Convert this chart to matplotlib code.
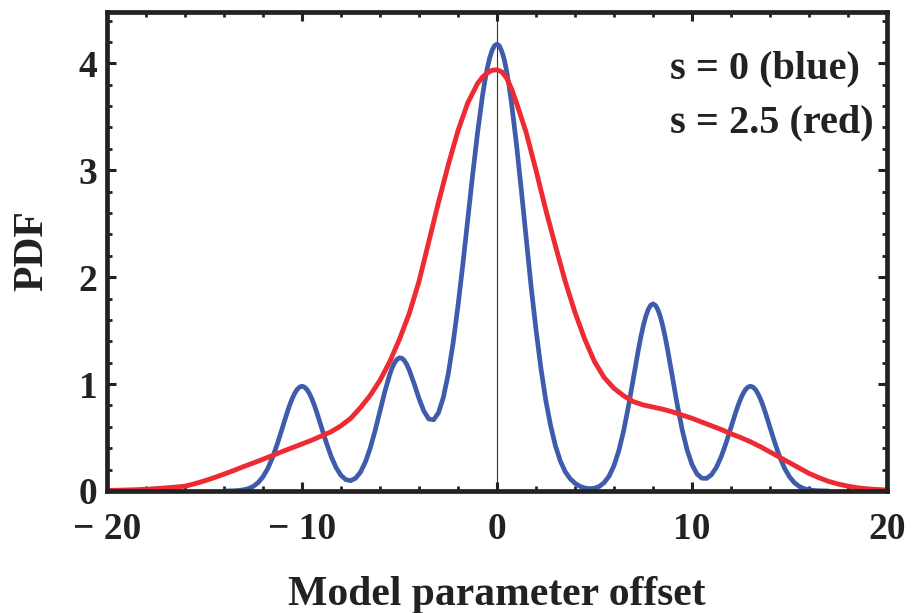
import matplotlib
matplotlib.use("Agg")
import matplotlib.pyplot as plt
from matplotlib.ticker import FixedLocator

plt.rcParams['font.family'] = ['Liberation Serif', 'DejaVu Serif']
plt.rcParams['font.weight'] = 'bold'

# ---- data ----
blue_x = [-14.0, -13.75, -13.5, -13.25, -13.0, -12.75, -12.5, -12.25, -12.0, -11.75,
          -11.5, -11.25, -11.0, -10.75, -10.625, -10.5, -10.375, -10.25, -10.125, -10.0,
          -9.875, -9.75, -9.625, -9.5, -9.375, -9.25,
          -9.0, -8.75, -8.5, -8.25, -8.0, -7.75, -7.5, -7.25, -7.0, -6.75,
          -6.5, -6.25, -6.0, -5.75, -5.5, -5.375, -5.25, -5.125, -5.0, -4.875,
          -4.75, -4.625, -4.5, -4.25,
          -4.0, -3.75, -3.5, -3.25, -3.0, -2.75, -2.5, -2.25, -2.0, -1.75,
          -1.5, -1.25, -1.0, -0.75, -0.625, -0.5, -0.375, -0.25, -0.125, 0.0,
          0.125, 0.25, 0.375, 0.5, 0.625, 0.75,
          1.0, 1.25, 1.5, 1.75, 2.0, 2.25, 2.5, 2.75, 3.0, 3.25,
          3.5, 3.75, 4.0, 4.25, 4.5, 4.75, 5.0, 5.25, 5.5, 5.75,
          6.0, 6.25, 6.5, 6.75, 7.0, 7.25, 7.375, 7.5, 7.625, 7.75, 7.875, 8.0,
          8.125, 8.25, 8.375, 8.5, 8.625, 8.75, 9.0, 9.25, 9.5, 9.75, 10.0, 10.25,
          10.5, 10.75, 11.0, 11.25, 11.5, 11.75, 12.0, 12.25, 12.375, 12.5, 12.625,
          12.75, 12.875, 13.0, 13.125, 13.25, 13.375, 13.5, 13.625, 13.75,
          14.0, 14.25, 14.5, 14.75, 15.0, 15.25, 15.5, 15.75,
          16.0, 16.25, 16.5, 16.75, 17.0]
blue_y = [0.000, 0.001, 0.002, 0.005, 0.011, 0.022, 0.043, 0.078, 0.133, 0.212,
          0.318, 0.449, 0.594, 0.740, 0.806, 0.865, 0.913, 0.950, 0.972, 0.980,
          0.972, 0.950, 0.913, 0.865, 0.806, 0.740,
          0.595, 0.450, 0.321, 0.218, 0.146, 0.106, 0.097, 0.120, 0.177, 0.271,
          0.402, 0.565, 0.748, 0.931, 1.090, 1.153, 1.201, 1.232, 1.246, 1.241,
          1.220, 1.182, 1.131, 1.004,
          0.865, 0.747, 0.674, 0.666, 0.732, 0.876, 1.096, 1.385, 1.732, 2.122,
          2.538, 2.955, 3.347, 3.689, 3.833, 3.954, 4.051, 4.122, 4.165, 4.180,
          4.163, 4.110, 4.033, 3.920, 3.783, 3.620,
          3.240, 2.810, 2.360, 1.910, 1.510, 1.150, 0.850, 0.610, 0.420, 0.280,
          0.180, 0.116, 0.072, 0.044, 0.028, 0.022, 0.026, 0.043, 0.079, 0.140,
          0.237, 0.379, 0.568, 0.801, 1.061, 1.321, 1.440, 1.544, 1.631, 1.696, 1.736, 1.750,
          1.736, 1.696, 1.631, 1.544, 1.440, 1.321, 1.061, 0.802, 0.570, 0.384, 0.248, 0.161,
          0.120, 0.118, 0.152, 0.221, 0.322, 0.450, 0.594, 0.740, 0.806, 0.865, 0.913,
          0.950, 0.972, 0.980, 0.972, 0.950, 0.913, 0.865, 0.806, 0.740,
          0.594, 0.449, 0.318, 0.212, 0.133, 0.078, 0.043, 0.022,
          0.011, 0.005, 0.002, 0.001, 0.000]

red_x = [-20.0, -19.5, -19.0, -18.5, -18.0, -17.5, -17.0, -16.5, -16.0, -15.5,
         -15.0, -14.5, -14.0, -13.5, -13.0, -12.5, -12.0, -11.5, -11.0, -10.5,
         -10.0, -9.5, -9.0, -8.5, -8.0, -7.5, -7.0, -6.5, -6.0, -5.5,
         -5.0, -4.5, -4.0, -3.5, -3.0, -2.5, -2.0, -1.5, -1.0, -0.75,
         -0.5, -0.25, 0.0, 0.25, 0.5, 0.75, 1.0, 1.5, 2.0, 2.5,
         3.0, 3.5, 4.0, 4.5, 5.0, 5.5, 6.0, 6.5, 7.0, 7.5,
         8.0, 8.5, 9.0, 9.5, 10.0, 10.5, 11.0, 11.5, 12.0, 12.5,
         13.0, 13.5, 14.0, 14.5, 15.0, 15.5, 16.0, 16.5, 17.0, 17.5,
         18.0, 18.5, 19.0, 19.5, 20.0]
red_y = [0.005, 0.007, 0.009, 0.012, 0.016, 0.022, 0.029, 0.036, 0.045, 0.068,
         0.095, 0.125, 0.158, 0.192, 0.228, 0.262, 0.297, 0.333, 0.370, 0.405,
         0.440, 0.475, 0.515, 0.555, 0.610, 0.680, 0.780, 0.895, 1.035, 1.210,
         1.420, 1.660, 1.960, 2.330, 2.700, 3.050, 3.370, 3.630, 3.810, 3.870,
         3.910, 3.935, 3.940, 3.920, 3.860, 3.760, 3.630, 3.350, 3.000, 2.630,
         2.290, 1.960, 1.670, 1.420, 1.210, 1.060, 0.960, 0.890, 0.835, 0.805,
         0.785, 0.765, 0.740, 0.710, 0.680, 0.645, 0.610, 0.575, 0.535, 0.500,
         0.460, 0.415, 0.365, 0.315, 0.265, 0.215, 0.165, 0.125, 0.090, 0.065,
         0.045, 0.030, 0.020, 0.014, 0.009]

x_major = [-20, -10, 0, 10, 20]
x_major_labels = ["\u2212 20", "\u2212 10", "0", "10", "20"]
x_minor = [-18, -16, -14, -12, -8, -6, -4, -2, 2, 4, 6, 8, 12, 14, 16, 18]
y_major = [0, 1, 2, 3, 4]
y_major_labels = ["0", "1", "2", "3", "4"]
y_minor = [0.2, 0.4, 0.6, 0.8, 1.2, 1.4, 1.6, 1.8, 2.2, 2.4, 2.6, 2.8,
           3.2, 3.4, 3.6, 3.8, 4.2, 4.4]
legend_lines = ["s = 0 (blue)", "s = 2.5 (red)"]

# ---- figure ----
W, H = 918, 613
fig = plt.figure(figsize=(W / 100, H / 100), dpi=100)
fig.patch.set_facecolor('white')
ax = fig.add_axes([107 / W, 1 - 491 / H, 780 / W, 479 / H])

dark = '#222222'
blue = '#3F5CAC'
red = '#EE2A33'

ax.axvline(0, color='#333333', lw=0.8, zorder=1)
ax.plot(blue_x, blue_y, color=blue, lw=3.4, zorder=3,
        solid_joinstyle='round', solid_capstyle='round')
ax.plot(red_x, red_y, color=red, lw=3.5, zorder=4,
        solid_joinstyle='round', solid_capstyle='round')

ax.set_xlim(-20, 20)
ax.set_ylim(0, 4.48)

for s in ax.spines.values():
    s.set_linewidth(3.4)
    s.set_color(dark)
    s.set_zorder(5)

ax.xaxis.set_major_locator(FixedLocator(x_major))
ax.set_xticklabels(x_major_labels)
ax.xaxis.set_minor_locator(FixedLocator(x_minor))
ax.yaxis.set_major_locator(FixedLocator(y_major))
ax.set_yticklabels(y_major_labels)
ax.yaxis.set_minor_locator(FixedLocator(y_minor))

ax.tick_params(which='both', direction='in', top=True, right=True, color=dark,
               labelcolor=dark)
ax.tick_params(which='major', length=6.5, width=2.2, labelsize=27)
ax.tick_params(which='minor', length=3.8, width=2.0)
ax.tick_params(axis='x', which='major', pad=15)
ax.tick_params(axis='y', which='major', pad=7)
for lab in ax.get_xticklabels() + ax.get_yticklabels():
    lab.set_fontweight('bold')

ax.text(8.85, 3.86, legend_lines[0], fontsize=29, fontweight='bold', color=dark,
        ha='left', va='baseline', zorder=6)
ax.text(8.85, 3.355, legend_lines[1], fontsize=29, fontweight='bold', color=dark,
        ha='left', va='baseline', zorder=6)

fig.text(497 / W, 1 - 605 / H, "Model parameter offset", fontsize=30,
         fontweight='bold', color=dark, ha='center', va='baseline')
fig.text(32 / W, 1 - 251 / H, "PDF", fontsize=30, fontweight='bold', color=dark,
         ha='center', va='center', rotation=90)

fig.savefig('out.png', dpi=100, facecolor='white')
